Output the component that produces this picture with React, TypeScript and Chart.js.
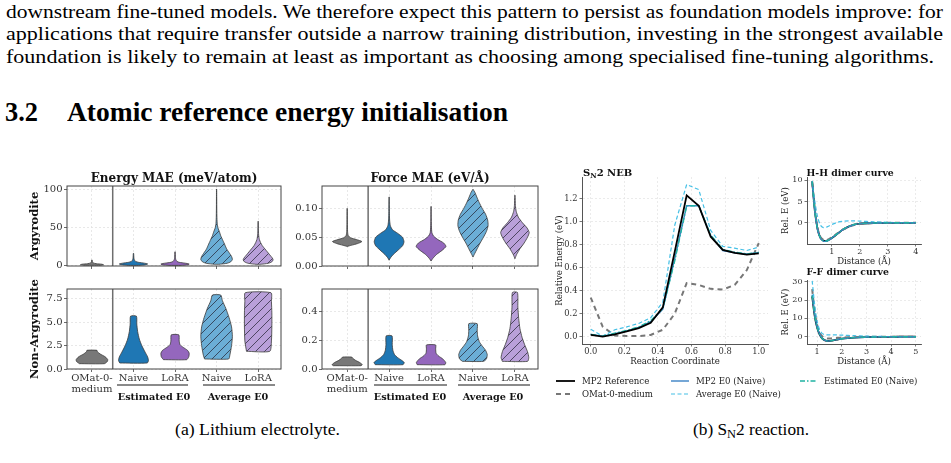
import React, { useEffect, useLayoutEffect, useRef } from 'react';
import { Chart, registerables } from 'chart.js';

Chart.register(...registerables);
Chart.defaults.font.family = "'DejaVu Serif', serif";
Chart.defaults.color = '#333333';

const FIG = "'DejaVu Serif', serif";
const DOC = "'Liberation Serif', 'DejaVu Serif', serif";

// ---------------- page text ----------------
const paragraphLines = [
  'downstream fine-tuned models. We therefore expect this pattern to persist as foundation models improve: for',
  'applications that require transfer outside a narrow training distribution, investing in the strongest available',
  'foundation is likely to remain at least as important as choosing among specialised fine-tuning algorithms.',
];
const sectionNumber = '3.2';
const sectionTitle = 'Atomic reference energy initialisation';
const captionA = '(a) Lithium electrolyte.';

// ---------------- (a) violin panels ----------------
const violinTickLabels: (string | string[])[] = [['OMat-0-', 'medium'], 'Naive', 'LoRA', 'Naive', 'LoRA'];
const violinCategories = [0, 1, 2, 3, 4];
const groupLabels = ['Estimated E0', 'Average E0'];
const rowLabels = ['Argyrodite', 'Non-Argyrodite'];
const columnTitles = ['Energy MAE (meV/atom)', 'Force MAE (eV/Å)'];

const energyArgTicks = [0, 50, 100];
const forceArgTicks = [0, 0.05, 0.1];
const energyNonArgTicks = [0, 2.5, 5, 7.5];
const forceNonArgTicks = [0, 0.2, 0.4];

// violin outlines: [value, half-width (category units)], from bottom to top
const energyArgOMat = [[0.4, 0.2], [1.0, 0.28], [1.8, 0.24], [2.6, 0.1], [3.5, 0.03], [5, 0.012], [7.4, 0.004]];
const energyArgNaive = [[0.3, 0.12], [1.2, 0.3], [2.2, 0.34], [3.2, 0.26], [4.3, 0.12], [5.5, 0.05], [7.5, 0.02], [10, 0.01], [16, 0.004]];
const energyArgLoRA = [[0.3, 0.15], [1.2, 0.32], [2.2, 0.34], [3.2, 0.24], [4.3, 0.1], [5.5, 0.045], [8, 0.018], [11, 0.008], [18, 0.004]];
const energyArgAvgNaive = [[1.7, 0.05], [3, 0.25], [5, 0.34], [8, 0.38], [12, 0.36], [17, 0.3], [22, 0.24], [27, 0.2], [33, 0.15], [39, 0.1], [44, 0.07], [49, 0.035], [55, 0.015], [65, 0.007], [80, 0.004], [100, 0.002]];
const energyArgAvgLoRA = [[1.7, 0.05], [3, 0.24], [5, 0.33], [7.5, 0.36], [10, 0.34], [14, 0.28], [18, 0.22], [22, 0.16], [26, 0.1], [30, 0.06], [34, 0.03], [40, 0.012], [48, 0.006], [58, 0.002]];

const forceArgOMat = [[0.034, 0.0], [0.036, 0.1], [0.039, 0.25], [0.0425, 0.35], [0.046, 0.22], [0.049, 0.08], [0.053, 0.025], [0.06, 0.01], [0.075, 0.005], [0.1, 0.002]];
const forceArgNaive = [[0.01, 0.0], [0.014, 0.03], [0.02, 0.1], [0.028, 0.22], [0.035, 0.32], [0.042, 0.355], [0.05, 0.32], [0.057, 0.2], [0.063, 0.08], [0.07, 0.03], [0.08, 0.012], [0.095, 0.006], [0.12, 0.002]];
const forceArgLoRA = [[0.0086, 0.0], [0.013, 0.04], [0.02, 0.13], [0.027, 0.26], [0.034, 0.355], [0.04, 0.3], [0.046, 0.16], [0.052, 0.06], [0.058, 0.02], [0.07, 0.008], [0.085, 0.004], [0.1035, 0.002]];
const forceArgAvgNaive = [[0.0155, 0.0], [0.02, 0.03], [0.03, 0.1], [0.04, 0.17], [0.05, 0.25], [0.06, 0.32], [0.07, 0.36], [0.08, 0.35], [0.09, 0.3], [0.1, 0.22], [0.11, 0.15], [0.12, 0.09], [0.128, 0.045], [0.1334, 0.0]];
const forceArgAvgLoRA = [[0.0127, 0.0], [0.02, 0.04], [0.03, 0.12], [0.04, 0.22], [0.05, 0.3], [0.058, 0.34], [0.066, 0.29], [0.075, 0.18], [0.085, 0.08], [0.095, 0.03], [0.105, 0.012], [0.123, 0.002]];

const energyNonOMat = [[0.57, 0.3], [0.8, 0.37], [1.0, 0.38], [1.3, 0.32], [1.6, 0.2], [1.85, 0.13], [2.0, 0.12]];
const energyNonNaive = [[0.64, 0.33], [0.9, 0.36], [1.3, 0.34], [1.8, 0.28], [2.5, 0.2], [3.2, 0.14], [4.0, 0.1], [4.8, 0.08], [5.65, 0.07]];
const energyNonLoRA = [[1.0, 0.28], [1.3, 0.33], [1.7, 0.34], [2.0, 0.3], [2.3, 0.2], [2.6, 0.12], [3.0, 0.1], [3.65, 0.09]];
const energyNonAvgNaive = [[1.07, 0.29], [1.5, 0.32], [2.5, 0.36], [3.5, 0.38], [4.5, 0.36], [5.5, 0.3], [6.5, 0.22], [7.3, 0.14], [7.9, 0.1]];
const energyNonAvgLoRA = [[1.89, 0.28], [3, 0.32], [4.5, 0.33], [6, 0.33], [7.2, 0.32], [8.15, 0.31]];

const forceNonOMat = [[0.023, 0.33], [0.03, 0.36], [0.045, 0.3], [0.06, 0.2], [0.075, 0.13], [0.083, 0.11]];
const forceNonNaive = [[0.03, 0.33], [0.045, 0.36], [0.06, 0.3], [0.08, 0.2], [0.1, 0.13], [0.13, 0.09], [0.17, 0.075], [0.23, 0.07]];
const forceNonLoRA = [[0.03, 0.33], [0.045, 0.35], [0.07, 0.28], [0.09, 0.18], [0.11, 0.12], [0.14, 0.11], [0.167, 0.11]];
const forceNonAvgNaive = [[0.053, 0.25], [0.07, 0.32], [0.1, 0.34], [0.13, 0.3], [0.16, 0.22], [0.19, 0.15], [0.23, 0.11], [0.27, 0.1], [0.315, 0.1]];
const forceNonAvgLoRA = [[0.053, 0.3], [0.08, 0.33], [0.12, 0.3], [0.17, 0.23], [0.22, 0.17], [0.28, 0.12], [0.35, 0.09], [0.43, 0.07], [0.532, 0.06]];

// ---------------- (b) SN2 data ----------------
const seriesNames = ['MP2 Reference', 'MP2 E0 (Naive)', 'Estimated E0 (Naive)', 'Average E0 (Naive)', 'OMat-0-medium'];

const reactionCoord = [0, 0.071, 0.143, 0.214, 0.286, 0.357, 0.429, 0.5, 0.571, 0.643, 0.714, 0.786, 0.857, 0.929, 1.0];
const nebMp2Ref = [0.015, 0.0, 0.02, 0.045, 0.075, 0.12, 0.255, 0.74, 1.23, 1.14, 0.87, 0.755, 0.73, 0.715, 0.725];
const nebMp2E0 = [0.02, 0.005, 0.025, 0.05, 0.08, 0.13, 0.24, 0.68, 1.14, 1.14, 0.88, 0.75, 0.73, 0.72, 0.73];
const nebEstimated = [0.02, 0.005, 0.03, 0.055, 0.085, 0.14, 0.245, 0.66, 1.14, 1.14, 0.885, 0.76, 0.735, 0.72, 0.735];
const nebAverage = [0.065, 0.005, 0.06, 0.085, 0.115, 0.165, 0.3, 0.97, 1.325, 1.28, 0.925, 0.786, 0.77, 0.75, 0.78];
const nebOMat = [0.34, 0.087, 0.01, 0.005, 0.005, 0.015, 0.06, 0.2, 0.466, 0.45, 0.416, 0.41, 0.45, 0.58, 0.815];
const nebXTicks = [0, 0.2, 0.4, 0.6, 0.8, 1.0];
const nebYTicks = [0, 0.2, 0.4, 0.6, 0.8, 1.0, 1.2];

const hhDistance = [0.3, 0.4, 0.5, 0.6, 0.7, 0.8, 0.9, 1.0, 1.2, 1.4, 1.6, 1.8, 2.0, 2.5, 3.0, 3.5, 4.0];
const hhMp2Ref = [9.8, 2.6, -1.7, -3.6, -4.2, -4.3, -4.0, -3.6, -2.6, -1.6, -0.9, -0.45, -0.2, -0.05, -0.01, 0, 0];
const hhMp2E0 = [9.6, 2.5, -1.8, -3.7, -4.3, -4.35, -4.05, -3.6, -2.6, -1.6, -0.9, -0.45, -0.2, -0.05, 0, 0, 0];
const hhEstimated = [9.7, 2.6, -1.7, -3.6, -4.25, -4.3, -4.0, -3.55, -2.55, -1.55, -0.85, -0.4, -0.18, -0.04, 0, 0, 0];
const hhAverage = [9.9, 4.8, 1.2, -0.6, -1.15, -1.05, -0.75, -0.4, 0.1, 0.35, 0.45, 0.45, 0.4, 0.25, 0.1, 0.03, 0];
const hhOMat = [9.5, 2.8, -1.5, -3.4, -4.0, -4.1, -3.85, -3.45, -2.5, -1.6, -0.95, -0.5, -0.25, -0.05, 0, 0, 0];
const hhXTicks = [1, 2, 3, 4];
const hhYTicks = [0, 5, 10];

const ffDistance = [0.8, 0.9, 1.0, 1.1, 1.2, 1.3, 1.4, 1.5, 1.6, 1.8, 2.0, 2.5, 3.0, 3.5, 4.0, 4.5, 5.0];
const ffMp2Ref = [22, 11.5, 5.0, 1.2, -0.9, -1.9, -2.3, -2.3, -2.1, -1.6, -1.1, -0.5, -0.25, -0.12, -0.05, -0.02, 0];
const ffMp2E0 = [23, 12, 5.3, 1.4, -0.8, -1.9, -2.3, -2.3, -2.1, -1.6, -1.1, -0.5, -0.25, -0.12, -0.05, -0.02, 0];
const ffEstimated = [22.5, 11.8, 5.2, 1.3, -0.85, -1.9, -2.3, -2.3, -2.1, -1.6, -1.1, -0.5, -0.25, -0.12, -0.05, -0.02, 0];
const ffAverage = [30.5, 17.5, 8.5, 3.8, 1.8, 1.2, 1.0, 1.0, 1.0, 0.95, 0.85, 0.55, 0.3, 0.15, 0.08, 0.03, 0];
const ffOMat = [26, 14, 6.5, 2.3, 0.3, -0.6, -1.0, -1.0, -0.9, -0.7, -0.5, -0.25, -0.1, -0.05, 0, 0, 0];
const ffXTicks = [1, 2, 3, 4, 5];
const ffYTicks = [0, 10, 20, 30];

// ---------------- styles ----------------
const violinFills = ['#787878', '#1f77b4', '#9467bd', '#6baed6', '#b9a0d9'];
const violinHatched = [false, false, false, true, true];
const seriesStyle = [
  { color: '#000000', width: 1.8, dash: [] as number[] },
  { color: '#3a82c4', width: 1.4, dash: [] as number[] },
  { color: '#1fb3a2', width: 1.4, dash: [5, 2, 1.5, 2] },
  { color: '#45c0e6', width: 1.2, dash: [4, 2.5] },
  { color: '#777777', width: 2.0, dash: [5, 4] },
];

function hatchPattern(color: string) {
  const c = document.createElement('canvas');
  c.width = 9;
  c.height = 9;
  const g = c.getContext('2d')!;
  g.fillStyle = color;
  g.fillRect(0, 0, 9, 9);
  g.strokeStyle = 'rgba(35,35,50,0.9)';
  g.lineWidth = 0.8;
  g.beginPath();
  g.moveTo(0, 9); g.lineTo(9, 0);
  g.moveTo(-1, 1); g.lineTo(1, -1);
  g.moveTo(8, 10); g.lineTo(10, 8);
  g.stroke();
  return g.createPattern(c, 'repeat');
}

const fixedTicks = (values: number[]) => (scale: any) => {
  scale.ticks = values.map((v) => ({ value: v }));
};

const framePlugin = {
  id: 'frame',
  afterDatasetsDraw(chart: any, _args: any, opts: any) {
    const { ctx, chartArea: a } = chart;
    ctx.save();
    if (opts.separator !== undefined && opts.separator !== null) {
      const x = chart.scales.x.getPixelForValue(opts.separator);
      ctx.strokeStyle = '#6e6e6e';
      ctx.lineWidth = 1.5;
      ctx.beginPath();
      ctx.moveTo(x, a.top);
      ctx.lineTo(x, a.bottom);
      ctx.stroke();
    }
    if (opts.box) {
      ctx.strokeStyle = '#444';
      ctx.lineWidth = 1;
      ctx.strokeRect(a.left, a.top, a.right - a.left, a.bottom - a.top);
    }
    ctx.restore();
  },
};

type Profile = number[][];

function violinChart(canvas: HTMLCanvasElement, p: any) {
  const datasets = (p.profiles as Profile[]).map((prof, i) => {
    const c = violinCategories[i];
    const leftSide = prof.map(([v, w]) => ({ x: c - w, y: v }));
    const rightSide = prof.slice().reverse().map(([v, w]) => ({ x: c + w, y: v }));
    return {
      data: [...leftSide, ...rightSide, leftSide[0]],
      showLine: true,
      fill: 'shape',
      backgroundColor: violinHatched[i] ? hatchPattern(violinFills[i]) : violinFills[i],
      borderColor: '#3a3a3a',
      borderWidth: 0.8,
      pointRadius: 0,
      tension: 0.2,
    };
  });
  const grid = { color: '#e2e2e2', lineWidth: 0.8, tickLength: 3, tickColor: '#444', tickWidth: 0.8 };
  return new Chart(canvas, {
    type: 'scatter',
    data: { datasets } as any,
    plugins: [framePlugin],
    options: {
      responsive: false,
      animation: false,
      devicePixelRatio: 1,
      layout: { padding: { top: 10, right: 8, left: 0, bottom: 0 } },
      plugins: { legend: { display: false }, tooltip: { enabled: false }, frame: { separator: 0.5, box: true } } as any,
      scales: {
        x: {
          type: 'linear', min: -0.6, max: 4.55,
          afterBuildTicks: fixedTicks(violinCategories),
          afterFit: (s: any) => { s.height = p.xH; },
          ticks: {
            display: p.showX, autoSkip: false, maxRotation: 0, minRotation: 0, padding: 1,
            callback: (v: any) => violinTickLabels[v], font: { size: 10, lineHeight: 1.1 }, color: '#333',
          },
          grid, border: { display: false, dash: [2, 2] },
        },
        y: {
          type: 'linear', min: p.yMin, max: p.yMax,
          afterBuildTicks: fixedTicks(p.ticks),
          afterFit: (s: any) => { s.width = 45; },
          ticks: { padding: 1.5, callback: p.fmt, font: { size: 10 }, color: '#333' },
          grid, border: { display: false, dash: [2, 2] },
        },
      },
    } as any,
  });
}

// drawOrder: higher order is drawn first (underneath)
function seriesDatasets(xs: number[], ys: number[][], tension: number, drawOrder: number[]) {
  return ys.map((vals, k) => ({
    label: seriesNames[k],
    data: xs.map((x, i) => ({ x, y: vals[i] })),
    showLine: true,
    borderColor: seriesStyle[k].color,
    borderWidth: seriesStyle[k].width,
    borderDash: seriesStyle[k].dash,
    pointRadius: 0,
    fill: false,
    tension,
    order: drawOrder[k],
  }));
}

function lineChart(canvas: HTMLCanvasElement, o: any) {
  const grid = { color: '#e6e6e6', lineWidth: 0.8, tickLength: 2.5, tickColor: '#555', tickWidth: 0.8 };
  return new Chart(canvas, {
    type: 'scatter',
    data: { datasets: o.datasets },
    options: {
      responsive: false,
      animation: false,
      devicePixelRatio: 1,
      layout: { padding: { top: 10, right: o.padRight, left: 0, bottom: 0 } },
      plugins: { legend: { display: false }, tooltip: { enabled: false } },
      scales: {
        x: {
          type: 'linear', min: o.xMin, max: o.xMax,
          afterBuildTicks: fixedTicks(o.xTicks),
          afterFit: (s: any) => { s.height = o.xH; },
          ticks: { callback: o.xFmt, font: { size: o.fs }, padding: 0.5, maxRotation: 0, autoSkip: false, color: '#333' },
          grid, border: { display: true, color: '#555', width: 1, dash: [2, 2] },
          title: { display: true, text: o.xTitle, font: { size: o.tfs }, padding: { top: 0, bottom: 1 }, color: '#222' },
        },
        y: {
          type: 'linear', min: o.yMin, max: o.yMax,
          afterBuildTicks: fixedTicks(o.yTicks),
          afterFit: (s: any) => { s.width = o.yW; },
          ticks: { callback: o.yFmt, font: { size: o.fs }, padding: 2, color: '#333' },
          grid, border: { display: true, color: '#555', width: 1, dash: [2, 2] },
          title: { display: true, text: o.yTitle, font: { size: o.tfs }, padding: { top: o.yTitlePad, bottom: 0 }, color: '#222' },
        },
      },
    } as any,
  });
}

// ---------------- components ----------------
function ChartBox({ x, y, w, h, build }: { x: number; y: number; w: number; h: number; build: (c: HTMLCanvasElement) => Chart }) {
  const ref = useRef<HTMLCanvasElement>(null);
  useEffect(() => {
    const chart = build(ref.current!);
    return () => chart.destroy();
  }, []);
  return <canvas ref={ref} width={w} height={h} style={{ position: 'absolute', left: x, top: y, width: w, height: h }} />;
}

// text scaled horizontally to a target width (Computer Modern is wider than Times)
function FitText({ children, x, baseline, width, size, bold, family }: { children: React.ReactNode; x: number; baseline: number; width: number; size: number; bold?: boolean; family: string }) {
  const ref = useRef<HTMLDivElement>(null);
  useLayoutEffect(() => {
    const el = ref.current;
    if (!el) return;
    el.style.transform = 'none';
    const w = el.getBoundingClientRect().width;
    el.style.transform = `scaleX(${width / w})`;
  }, []);
  return (
    <div ref={ref} style={{ position: 'absolute', left: x, top: baseline - 0.84 * size, fontSize: size, lineHeight: `${size}px`, fontFamily: family, fontWeight: bold ? 700 : 400, whiteSpace: 'nowrap', color: '#000', transformOrigin: '0 50%' }}>
      {children}
    </div>
  );
}

function Label({ children, cx, cy, size, bold, family = FIG, align = 'center', color = '#111' }: any) {
  const tx = align === 'center' ? '-50%' : '0';
  return (
    <div style={{ position: 'absolute', left: cx, top: cy, width: 0, height: 0, overflow: 'visible' }}>
      <div style={{ position: 'absolute', left: 0, top: 0, transform: `translate(${tx}, -50%)`, fontFamily: family, fontSize: size, fontWeight: bold ? 700 : 400, lineHeight: `${size * 1.2}px`, whiteSpace: 'nowrap', color }}>
        {children}
      </div>
    </div>
  );
}

function RotLabel({ text, cx, cy, size }: { text: string; cx: number; cy: number; size: number }) {
  return (
    <div style={{ position: 'absolute', left: cx, top: cy, width: 0, height: 0 }}>
      <div style={{ position: 'absolute', left: 0, top: 0, transform: 'translate(-50%, -50%) rotate(-90deg)', fontFamily: FIG, fontSize: size, fontWeight: 700, lineHeight: `${size * 1.2}px`, whiteSpace: 'nowrap', color: '#111' }}>
        {text}
      </div>
    </div>
  );
}

const violinPanels = [
  { L: 67, T: 186, R: 281, B: 266, xH: 10, showX: false, profiles: [energyArgOMat, energyArgNaive, energyArgLoRA, energyArgAvgNaive, energyArgAvgLoRA], yMin: -0.5, yMax: 104, ticks: energyArgTicks, fmt: (v: number) => String(v) },
  { L: 322, T: 186, R: 538, B: 266, xH: 10, showX: false, profiles: [forceArgOMat, forceArgNaive, forceArgLoRA, forceArgAvgNaive, forceArgAvgLoRA], yMin: 0, yMax: 0.139, ticks: forceArgTicks, fmt: (v: number) => v.toFixed(2) },
  { L: 67, T: 289, R: 281, B: 369, xH: 30, showX: true, profiles: [energyNonOMat, energyNonNaive, energyNonLoRA, energyNonAvgNaive, energyNonAvgLoRA], yMin: 0, yMax: 8.55, ticks: energyNonArgTicks, fmt: (v: number) => v.toFixed(1) },
  { L: 322, T: 289, R: 538, B: 369, xH: 30, showX: true, profiles: [forceNonOMat, forceNonNaive, forceNonLoRA, forceNonAvgNaive, forceNonAvgLoRA], yMin: 0, yMax: 0.556, ticks: forceNonArgTicks, fmt: (v: number) => v.toFixed(1) },
];

const groupUnderlines = [
  { x1: 117, x2: 188, cx: 154, label: groupLabels[0] },
  { x1: 203, x2: 275, cx: 238, label: groupLabels[1] },
  { x1: 374, x2: 447, cx: 410, label: groupLabels[0] },
  { x1: 458, x2: 530, cx: 493, label: groupLabels[1] },
];

const legendSlots = [
  { s: 0, x: 556, y: 381, w: 19, col: 0 },
  { s: 1, x: 671, y: 381, w: 18, col: 1 },
  { s: 2, x: 800, y: 381, w: 17, col: 2 },
  { s: 4, x: 556, y: 394, w: 17, col: 0 },
  { s: 3, x: 671, y: 394, w: 18, col: 1 },
];
const legendTextX = [582, 696, 824];

export default function App() {
  const nebFmt = (v: number) => v.toFixed(1);
  const intFmt = (v: number) => String(v);
  return (
    <div style={{ position: 'absolute', left: 0, top: 0, width: 951, height: 463, background: '#fff', overflow: 'hidden' }}>
      {paragraphLines.map((t, i) => (
        <FitText key={i} x={6} baseline={18.5 + i * 22.5} width={i < 2 ? 937 : 928} size={18.5} family={DOC}>{t}</FitText>
      ))}
      <FitText x={5} baseline={121.7} width={33} size={27} bold family={DOC}>{sectionNumber}</FitText>
      <FitText x={67} baseline={121.7} width={441} size={27} bold family={DOC}>{sectionTitle}</FitText>

      {/* (a) violins */}
      {violinPanels.map((p, k) => (
        <ChartBox key={k} x={p.L - 45} y={p.T - 10} w={p.R + 8 - (p.L - 45)} h={p.B + p.xH - (p.T - 10)} build={(c) => violinChart(c, p)} />
      ))}
      <Label cx={174} cy={177.5} size={12} bold>{columnTitles[0]}</Label>
      <Label cx={430} cy={177.5} size={12} bold>{columnTitles[1]}</Label>
      <RotLabel text={rowLabels[0]} cx={35} cy={226} size={11.5} />
      <RotLabel text={rowLabels[1]} cx={35} cy={329} size={11.5} />
      {groupUnderlines.map((g, i) => (
        <React.Fragment key={i}>
          <div style={{ position: 'absolute', left: g.x1, top: 384.3, width: g.x2 - g.x1, height: 1.4, background: '#8a8a8a' }} />
          <Label cx={g.cx} cy={397} size={9.7} bold>{g.label}</Label>
        </React.Fragment>
      ))}

      {/* (b) SN2 */}
      <ChartBox x={550} y={167} w={225} h={201} build={(c) => lineChart(c, {
        datasets: seriesDatasets(reactionCoord, [nebMp2Ref, nebMp2E0, nebEstimated, nebAverage, nebOMat], 0, [0, 2, 1, 3, 4]),
        xMin: -0.052, xMax: 1.055, yMin: -0.064, yMax: 1.39, xTicks: nebXTicks, yTicks: nebYTicks,
        xFmt: nebFmt, yFmt: nebFmt, xTitle: 'Reaction Coordinate', yTitle: 'Relative Energy (eV)',
        yW: 32, xH: 24, padRight: 7, fs: 8.3, tfs: 8.6, yTitlePad: 5,
      })} />
      <ChartBox x={777} y={167} w={152} h={101} build={(c) => lineChart(c, {
        datasets: seriesDatasets(hhDistance, [hhMp2Ref, hhMp2E0, hhEstimated, hhAverage, hhOMat], 0.3, [9, 1, 0, 2, 5]),
        xMin: 0.115, xMax: 4.185, yMin: -5.0, yMax: 10.8, xTicks: hhXTicks, yTicks: hhYTicks,
        xFmt: intFmt, yFmt: intFmt, xTitle: 'Distance (Å)', yTitle: 'Rel. E (eV)',
        yW: 30, xH: 24, padRight: 8, fs: 8, tfs: 8.6, yTitlePad: 4,
      })} />
      <ChartBox x={777} y={270} w={152} h={98} build={(c) => lineChart(c, {
        datasets: seriesDatasets(ffDistance, [ffMp2Ref, ffMp2E0, ffEstimated, ffAverage, ffOMat], 0.3, [9, 1, 0, 2, 5]),
        xMin: 0.59, xMax: 5.21, yMin: -4.0, yMax: 31, xTicks: ffXTicks, yTicks: ffYTicks,
        xFmt: intFmt, yFmt: intFmt, xTitle: 'Distance (Å)', yTitle: 'Rel. E (eV)',
        yW: 30, xH: 24, padRight: 8, fs: 8, tfs: 8.6, yTitlePad: 4,
      })} />
      <Label cx={583} cy={172.5} size={10} bold align="left">S<sub style={{ fontSize: '0.7em', verticalAlign: '-0.3em', lineHeight: 0 }}>N</sub>2 NEB</Label>
      <Label cx={806.5} cy={172.5} size={9.3} bold align="left">H-H dimer curve</Label>
      <Label cx={806.5} cy={272} size={9.3} bold align="left">F-F dimer curve</Label>

      {/* legend */}
      {legendSlots.map((l, i) => {
        const st = seriesStyle[l.s];
        return (
          <React.Fragment key={i}>
            <svg width={l.w} height={6} style={{ position: 'absolute', left: l.x, top: l.y - 3 }}>
              <line x1={0} y1={3} x2={l.w} y2={3} stroke={st.color} strokeWidth={st.width} strokeDasharray={st.dash.length ? st.dash.join(' ') : undefined} />
            </svg>
            <Label cx={legendTextX[l.col]} cy={l.y} size={8.6} align="left" color="#222">{seriesNames[l.s]}</Label>
          </React.Fragment>
        );
      })}

      {/* captions */}
      <FitText x={175} baseline={435} width={165} size={17} family={DOC}>{captionA}</FitText>
      <FitText x={693} baseline={435} width={116} size={17} family={DOC}>
        (b) S<sub style={{ fontSize: '0.72em', verticalAlign: '-0.25em', lineHeight: 0 }}>N</sub>2 reaction.
      </FitText>
    </div>
  );
}
